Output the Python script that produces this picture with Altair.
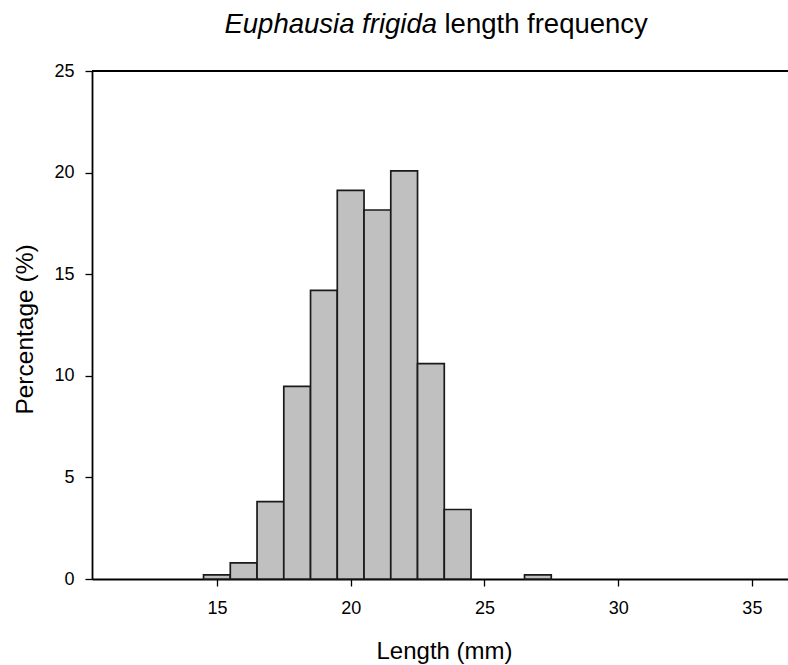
import altair as alt
import pandas as pd

# Data (1 mm bins centred on integers)
lengths = [15, 16, 17, 18, 19, 20, 21, 22, 23, 24, 27]
percent = [0.2, 0.79, 3.81, 9.48, 14.2, 19.13, 18.16, 20.08, 10.6, 3.42, 0.2]
x_ticks = [15, 20, 25, 30, 35]
y_ticks = [0, 5, 10, 15, 20, 25]

df = pd.DataFrame({"length": lengths, "pct": percent})
df["start"] = df["length"] - 0.5
df["end"] = df["length"] + 0.5
df["base"] = 0.0

FONT = "Liberation Sans"
W, H = 696, 508

xscale = alt.Scale(domain=[10.33, 36.35], nice=False, zero=False)
yscale = alt.Scale(domain=[0, 25], nice=False)

bars = alt.Chart(df).mark_bar(
    fill="#c0c0c0", stroke="#1a1a1a", strokeWidth=1.7
).encode(
    x=alt.X("start:Q", scale=xscale,
            axis=alt.Axis(values=x_ticks, title="Length (mm)", grid=False,
                          domainColor="black", domainWidth=1.8,
                          tickColor="black", tickSize=7, tickWidth=1.3,
                          labelFont=FONT, labelFontSize=18, labelColor="black",
                          labelPadding=13, labelFlush=False,
                          titleFont=FONT, titleFontSize=24, titleFontWeight="normal",
                          titleColor="black", titleBaseline="alphabetic",
                          titleX=352, titleY=79)),
    x2="end:Q",
    y=alt.Y("pct:Q", scale=yscale,
            axis=alt.Axis(values=y_ticks, title="Percentage (%)", grid=False,
                          domainColor="black", domainWidth=1.8,
                          tickColor="black", tickSize=7, tickWidth=1.3,
                          labelFont=FONT, labelFontSize=18, labelColor="black",
                          labelPadding=11, labelFlush=False,
                          titleFont=FONT, titleFontSize=24.5, titleFontWeight="normal",
                          titleColor="black", titleBaseline="alphabetic",
                          titleX=-60, titleY=258)),
    y2="base:Q",
)

top_line = alt.Chart(pd.DataFrame({"y": [25]})).mark_rule(
    color="black", strokeWidth=1.8
).encode(y=alt.Y("y:Q", scale=yscale))

title_df = pd.DataFrame({"a": ["Euphausia frigida"], "b": ["length frequency"]})
title_italic = alt.Chart(title_df).mark_text(
    font=FONT, fontSize=27.5, fontStyle="italic", align="right",
    baseline="alphabetic", color="black"
).encode(text="a:N", x=alt.value(345), y=alt.value(-38))
title_plain = alt.Chart(title_df).mark_text(
    font=FONT, fontSize=27.5, align="left", baseline="alphabetic", color="black"
).encode(text="b:N", x=alt.value(352.5), y=alt.value(-38))

chart = alt.layer(bars, top_line, title_italic, title_plain).properties(
    width=W, height=H,
    autosize=alt.AutoSizeParams(type="none"),
    padding={"left": 92, "top": 71, "right": 0, "bottom": 86},
).configure_view(stroke=None).configure(background="white")

chart.save("out.html", embed_options={"renderer": "svg", "actions": False})
